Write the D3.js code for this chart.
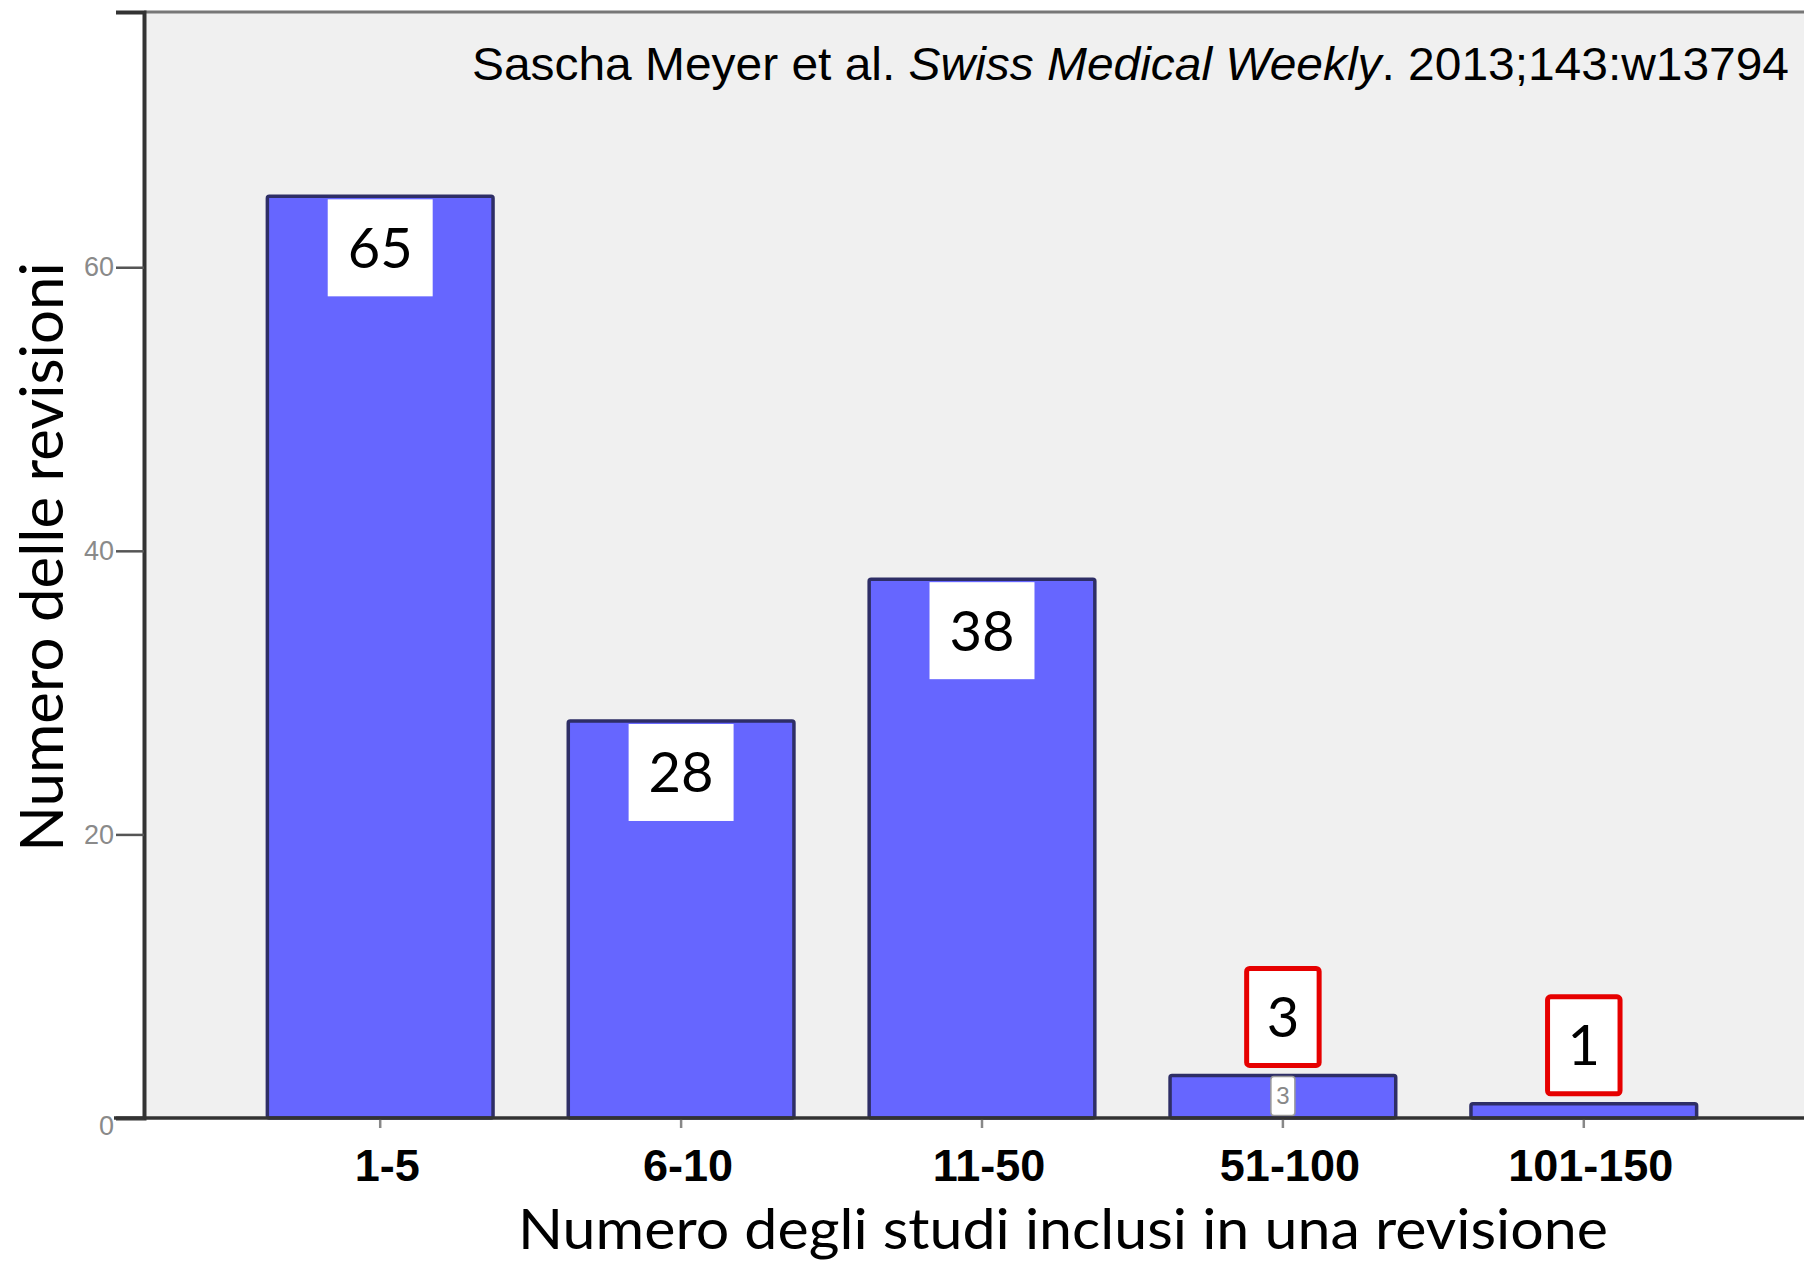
<!DOCTYPE html>
<html>
<head>
<meta charset="utf-8">
<script src="https://cdn.jsdelivr.net/npm/d3@7"></script>
<style>
  body { margin: 0; background: #fff; }
  svg { display: block; }
</style>
</head>
<body>
<svg id="chart" width="1804" height="1263"></svg>
<script>
// data
const categories = ["1-5", "6-10", "11-50", "51-100", "101-150"];
const counts = [65, 28, 38, 3, 1];
const yTicks = [0, 20, 40, 60];
const yMax = 78;
const smallLimit = 10; // values under this get the red box above the bar

const W = 1804, H = 1263;
const plotLeft = 144, plotTop = 12, plotBottom = 1118, plotRight = 1820;

let svg = d3.select("#chart");

let x = d3.scaleBand()
    .domain(categories)
    .range([plotLeft, plotRight])
    .paddingInner(0.25)
    .paddingOuter(0.41);

let y = d3.scaleLinear()
    .domain([0, yMax])
    .range([plotBottom, plotTop]);

// plot background + frame
svg.append("rect")
    .attr("x", plotLeft).attr("y", plotTop)
    .attr("width", W - plotLeft + 10).attr("height", plotBottom - plotTop)
    .attr("fill", "#f0f0f0");
svg.append("line")
    .attr("x1", plotLeft).attr("x2", W)
    .attr("y1", plotTop).attr("y2", plotTop)
    .attr("stroke", "#777").attr("stroke-width", 3);

// bars
svg.append("g").selectAll("rect")
    .data(counts)
    .enter().append("rect")
    .attr("x", (d, i) => x(categories[i]))
    .attr("y", d => y(d))
    .attr("width", x.bandwidth())
    .attr("height", d => y(0) - y(d))
    .attr("rx", 2)
    .attr("fill", "#6666ff")
    .attr("stroke", "#2e2e66")
    .attr("stroke-width", 3.5);

// small original label, only where it still shows inside a low bar
let smallIdx = counts.map((d, i) => i).filter(i => counts[i] < smallLimit && y(0) - y(counts[i]) >= 38);
let small = svg.append("g")
    .selectAll("g")
    .data(smallIdx)
    .enter().append("g")
    .attr("transform", i => "translate(" + (x(categories[i]) + x.bandwidth() / 2) + "," + (y(counts[i]) + 1) + ")");
small.append("rect")
    .attr("x", -12).attr("y", 0)
    .attr("width", 24).attr("height", 39)
    .attr("rx", 3)
    .attr("fill", "#fff")
    .attr("stroke", "#999").attr("stroke-width", 1.5);
small.append("text")
    .attr("y", 28)
    .attr("text-anchor", "middle")
    .attr("font-family", "Liberation Sans, Arial, sans-serif")
    .attr("font-size", 24)
    .attr("fill", "#888")
    .text(i => counts[i]);

// axes
let yAxis = d3.axisLeft(y).tickValues(yTicks).tickSize(28).tickPadding(2);
let gy = svg.append("g")
    .attr("transform", "translate(" + plotLeft + ",0)")
    .call(yAxis);
gy.select(".domain").attr("stroke", "#333").attr("stroke-width", 4);
gy.selectAll(".tick line").attr("stroke", "#555").attr("stroke-width", 2.5);
gy.selectAll(".tick text")
    .attr("font-family", "Liberation Sans, Arial, sans-serif")
    .attr("font-size", 27)
    .attr("fill", "#8a8a8a");
gy.selectAll(".tick").filter(d => d === 0).select("text").attr("dy", "0.6em");

let xAxis = d3.axisBottom(x).tickSize(10).tickSizeOuter(0).tickPadding(21);
let gx = svg.append("g")
    .attr("transform", "translate(0," + plotBottom + ")")
    .call(xAxis);
gx.select(".domain").remove();
gx.append("line")
    .attr("x1", plotLeft - 30).attr("x2", W)
    .attr("stroke", "#333").attr("stroke-width", 3.5);
gx.selectAll(".tick line").attr("stroke", "#888").attr("stroke-width", 2.5);
gx.selectAll(".tick text")
    .attr("dx", 7)
    .attr("font-family", "Liberation Sans, Arial, sans-serif")
    .attr("font-weight", "bold")
    .attr("font-size", 45)
    .attr("fill", "#000");

// value boxes
let boxes = svg.append("g").selectAll("g")
    .data(counts)
    .enter().append("g");
boxes.append("text")
    .attr("class", "val")
    .attr("text-anchor", "middle")
    .attr("font-family", "Lato, sans-serif")
    .attr("font-size", 56)
    .attr("fill", "#000")
    .text(d => d);
boxes.each(function (d, i) {
  let g = d3.select(this);
  let t = g.select("text");
  let w = t.node().getComputedTextLength() + 40;
  let h = 97;
  let cx = x(categories[i]) + x.bandwidth() / 2;
  let isSmall = d < smallLimit;
  let by = isSmall ? y(d) - 10 - h : y(d) + 3;
  g.insert("rect", "text")
      .attr("x", cx - w / 2).attr("y", by)
      .attr("width", w).attr("height", h)
      .attr("rx", isSmall ? 3 : 0)
      .attr("fill", "#fff")
      .attr("stroke", isSmall ? "#e60000" : "none")
      .attr("stroke-width", 5);
  t.attr("x", cx).attr("y", by + h / 2 + 20);
});

// texts
svg.append("text")
    .attr("x", 1789).attr("y", 80)
    .attr("text-anchor", "end")
    .attr("font-family", "Liberation Sans, Arial, sans-serif")
    .attr("font-size", 47)
    .attr("fill", "#000")
    .attr("textLength", 1317)
    .attr("lengthAdjust", "spacingAndGlyphs")
    .html('Sascha Meyer et al. <tspan font-style="italic">Swiss Medical Weekly</tspan>. 2013;143:w13794');

svg.append("text")
    .attr("x", 1063).attr("y", 1249)
    .attr("text-anchor", "middle")
    .attr("font-family", "Lato, sans-serif")
    .attr("font-size", 56)
    .attr("textLength", 1090)
    .attr("lengthAdjust", "spacingAndGlyphs")
    .attr("fill", "#000")
    .text("Numero degli studi inclusi in una revisione");

svg.append("text")
    .attr("transform", "translate(63,557) rotate(-90)")
    .attr("text-anchor", "middle")
    .attr("font-family", "Lato, sans-serif")
    .attr("font-size", 60)
    .attr("fill", "#000")
    .text("Numero delle revisioni");
</script>
</body>
</html>
